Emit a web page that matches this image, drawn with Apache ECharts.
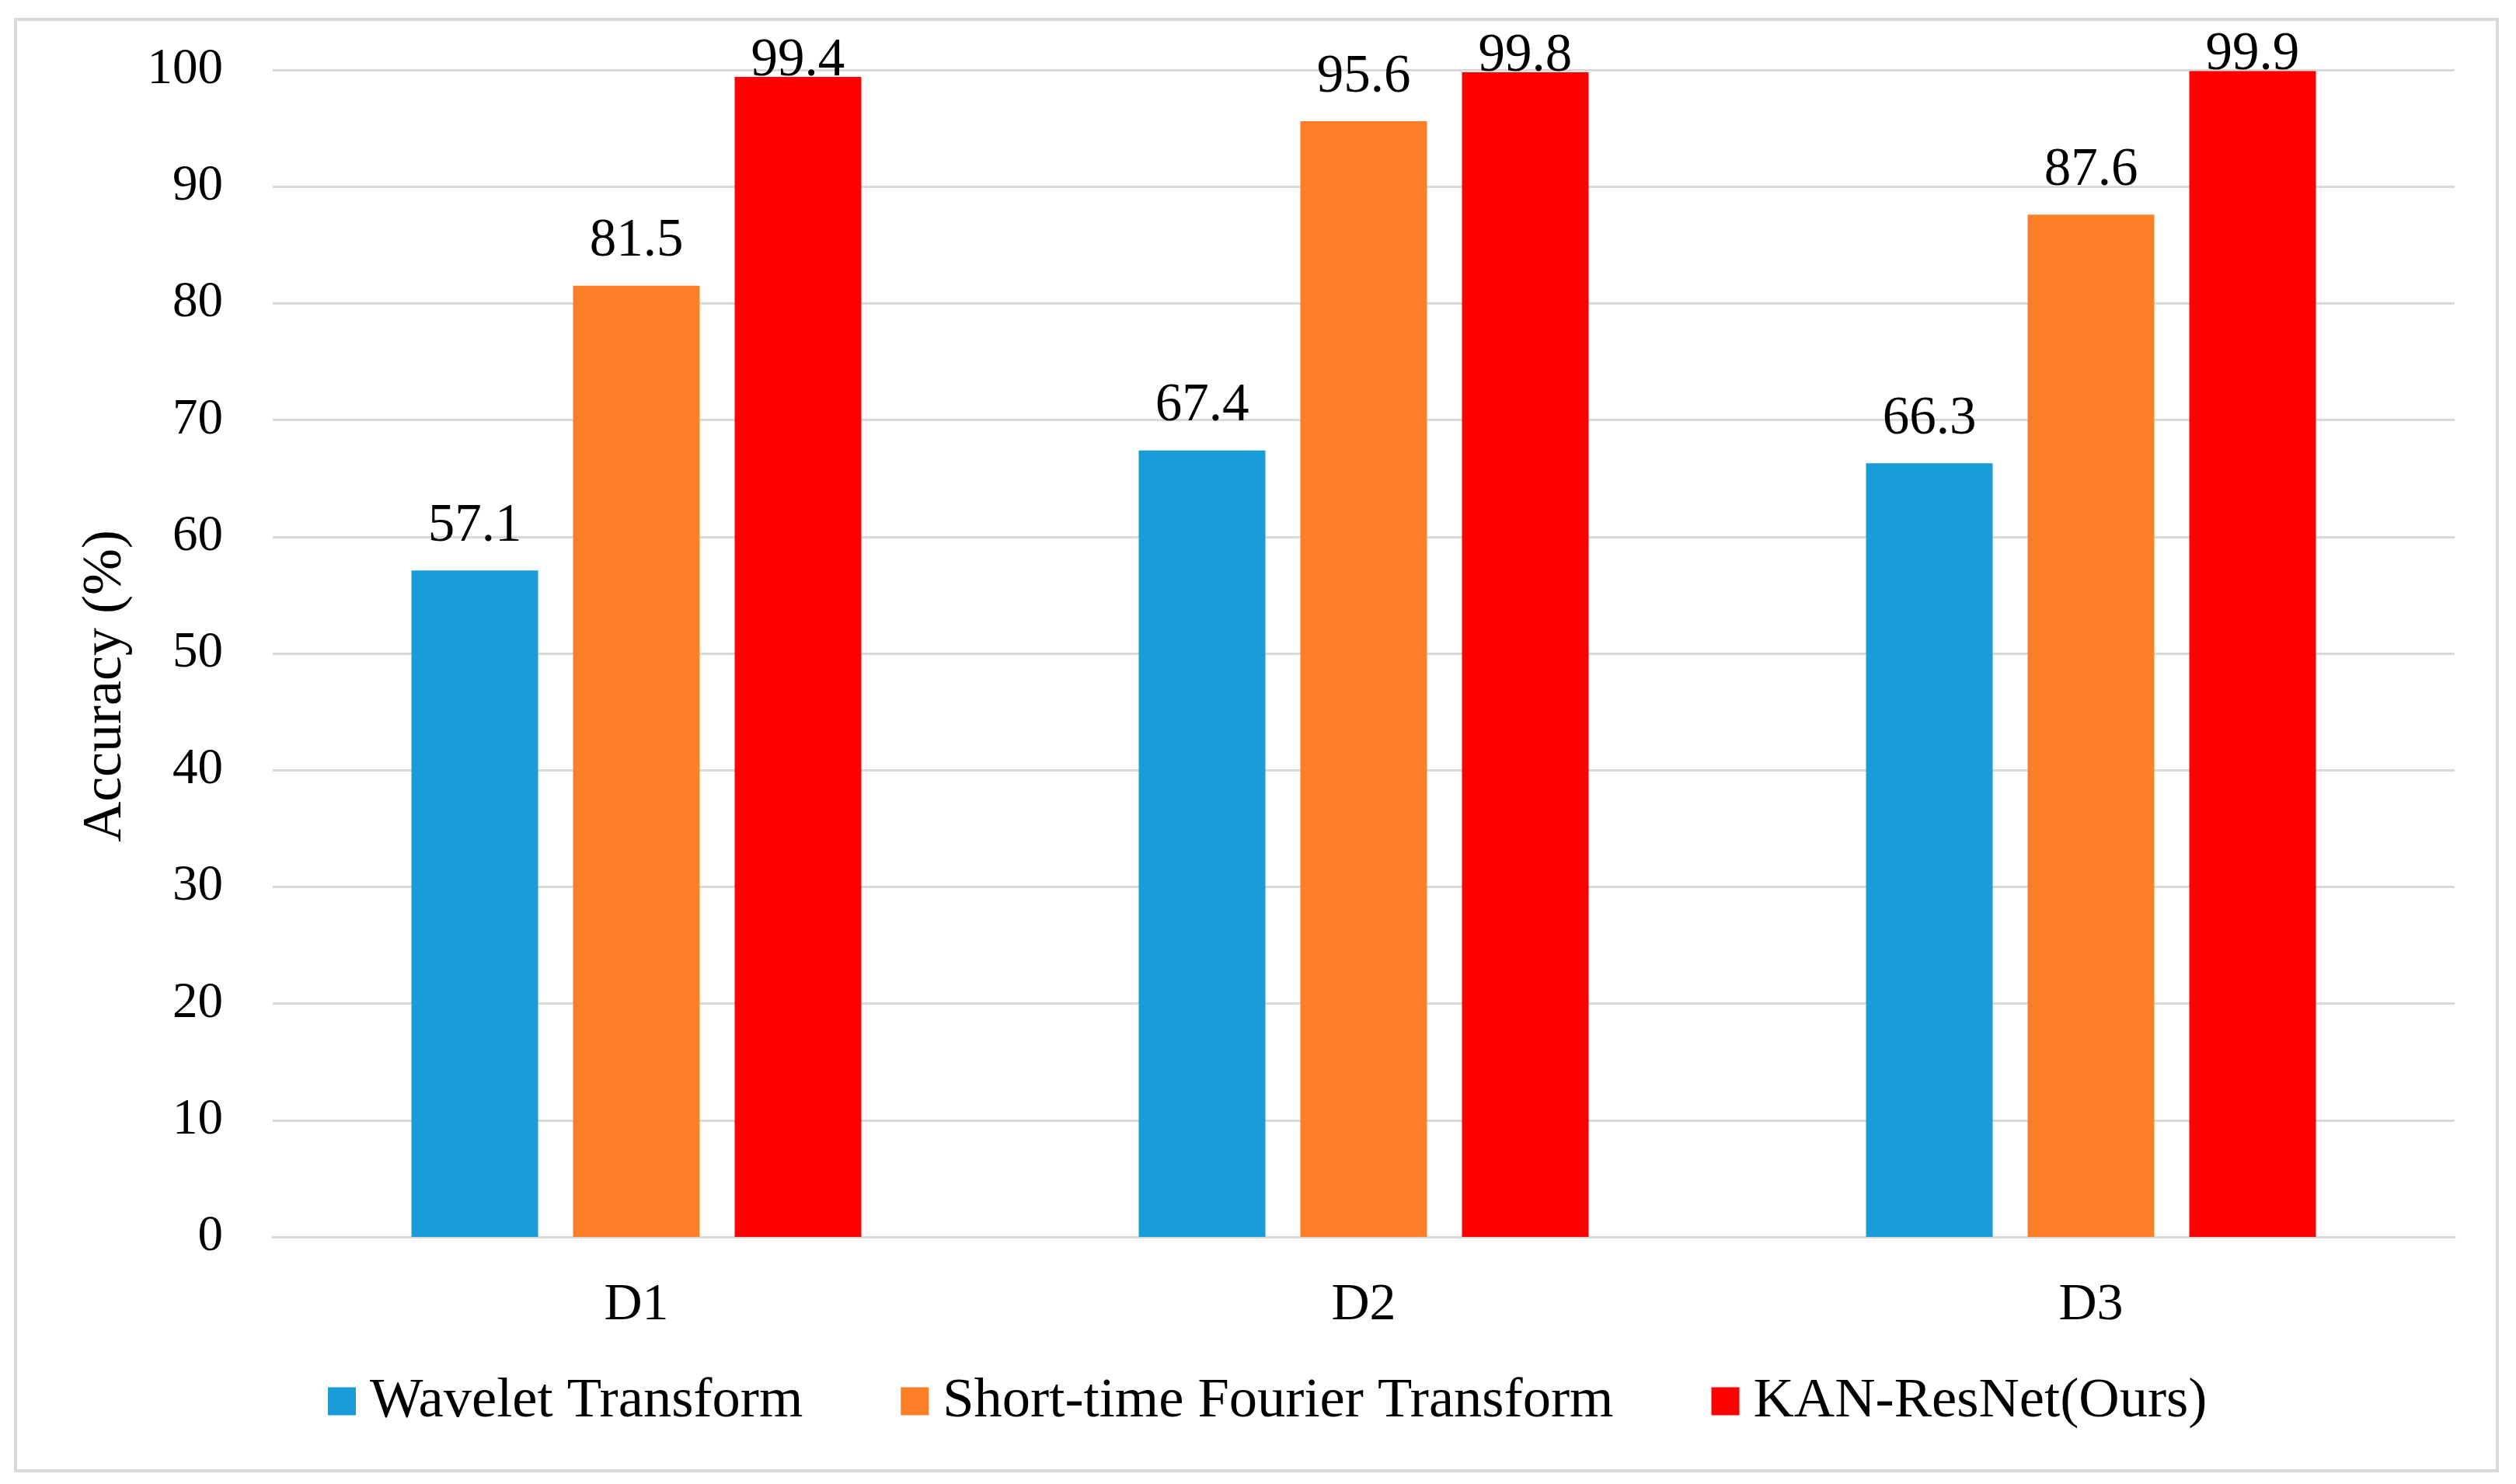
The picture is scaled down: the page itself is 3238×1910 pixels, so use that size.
<!DOCTYPE html>
<html>
<head>
<meta charset="utf-8">
<style>
html,body{margin:0;padding:0;background:#fff;}
#chart{width:3238px;height:1910px;}
</style>
<script src="https://cdn.jsdelivr.net/npm/echarts@6/dist/echarts.min.js"></script>
</head>
<body>
<div id="chart"></div>
<script>
const categories = ['D1', 'D2', 'D3'];
const seriesNames = ['Wavelet Transform', 'Short-time Fourier Transform', 'KAN-ResNet(Ours)'];
const waveletValues = [57.1, 67.4, 66.3];
const stftValues = [81.5, 95.6, 87.6];
const kanValues = [99.4, 99.8, 99.9];
const yTicks = { min: 0, max: 100, interval: 10 };
const colors = ['#1A9CD8', '#FE7F28', '#FF0000'];

const FONT = 'Liberation Serif, Times New Roman, serif';
const chart = echarts.init(document.getElementById('chart'));

function barSeries(name, data, color, labelDist) {
  return {
    name: name,
    type: 'bar',
    data: data,
    barWidth: 163,
    barGap: '27.6%',
    itemStyle: { color: color },
    label: {
      show: true,
      position: 'top',
      distance: labelDist,
      fontFamily: FONT,
      fontSize: 69,
      color: '#000'
    }
  };
}

chart.setOption({
  backgroundColor: '#fff',
  animation: false,
  graphic: [{
    type: 'rect',
    shape: { x: 20, y: 25, width: 3194, height: 1868 },
    style: { fill: 'none', stroke: '#d9d9d9', lineWidth: 4 },
    silent: true
  }],
  grid: { left: 351, right: 79, top: 90, bottom: 318, containLabel: false },
  legend: {
    data: seriesNames,
    left: 422,
    top: 1767,
    padding: 0,
    itemGap: 126,
    itemWidth: 36,
    itemHeight: 36,
    icon: 'rect',
    textStyle: { fontFamily: FONT, fontSize: 72.5, color: '#000', padding: [0, 0, 0, 13] }
  },
  xAxis: {
    type: 'category',
    data: categories,
    axisTick: { show: false },
    axisLine: { show: true, lineStyle: { color: '#d9d9d9', width: 3 } },
    axisLabel: { fontFamily: FONT, fontSize: 68, color: '#000', margin: 54 }
  },
  yAxis: {
    type: 'value',
    min: yTicks.min,
    max: yTicks.max,
    interval: yTicks.interval,
    name: 'Accuracy (%)',
    nameLocation: 'middle',
    nameRotate: 90,
    nameGap: 179,
    nameTextStyle: { fontFamily: FONT, fontSize: 72, color: '#000', padding: [0, 84, 0, 0] },
    axisLine: { show: false },
    axisTick: { show: false },
    axisLabel: { fontFamily: FONT, fontSize: 65, color: '#000', margin: 64 },
    splitLine: { lineStyle: { color: '#d9d9d9', width: 3 } }
  },
  series: [
    barSeries(seriesNames[0], waveletValues, colors[0], 22),
    barSeries(seriesNames[1], stftValues, colors[1], 22),
    barSeries(seriesNames[2], kanValues, colors[2], -14)
  ]
});
</script>
</body>
</html>
